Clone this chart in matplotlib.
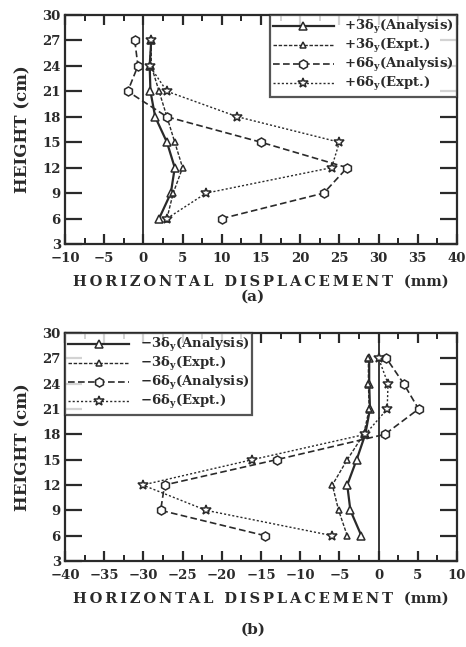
import matplotlib
matplotlib.use("Agg")
import matplotlib.pyplot as plt
from matplotlib.ticker import MultipleLocator

# heights of the measuring points (cm)
heights = [6, 9, 12, 15, 18, 21, 24, 27]

# (a) positive loading
pos3_ana = [2.0, 3.5, 4.0, 3.0, 1.5, 0.9, 0.8, 1.0]
pos3_exp = [3.0, 3.8, 5.0, 4.0, 3.0, 2.0, 1.0, 1.0]
pos6_ana = [10.0, 23.0, 26.0, 15.0, 3.0, -2.0, -0.7, -1.1]
pos6_exp = [3.0, 8.0, 24.0, 25.0, 12.0, 3.0, 0.8, 1.0]

# (b) negative loading
neg3_ana = [-2.2, -3.6, -4.0, -2.8, -1.7, -1.1, -1.2, -1.2]
neg3_exp = [-4.0, -5.1, -5.9, -4.0, -1.9, -1.2, -1.3, -1.3]
neg6_ana = [-14.5, -27.8, -27.3, -13.0, 0.8, 5.1, 3.2, 1.0]
neg6_exp = [-5.9, -22.0, -30.1, -16.1, -1.7, 1.1, 1.2, 0.0]

labels_a = ["+3δ$_\\mathrm{y}$(Analysis)", "+3δ$_\\mathrm{y}$(Expt.)",
            "+6δ$_\\mathrm{y}$(Analysis)", "+6δ$_\\mathrm{y}$(Expt.)"]
labels_b = ["\u22123δ$_\\mathrm{y}$(Analysis)", "\u22123δ$_\\mathrm{y}$(Expt.)",
            "\u22126δ$_\\mathrm{y}$(Analysis)", "\u22126δ$_\\mathrm{y}$(Expt.)"]

x_title = "\u2009".join("HORIZONTAL") + "\u2009\u2009 " + \
          "\u2009".join("DISPLACEMENT") + "\u2009\u2009 (mm)"

plt.rcParams['font.family'] = ['DejaVu Serif']
plt.rcParams['font.weight'] = 'bold'
plt.rcParams['axes.labelweight'] = 'bold'
plt.rcParams['mathtext.fontset'] = 'custom'
plt.rcParams['mathtext.rm'] = 'DejaVu Serif:bold'
plt.rcParams['mathtext.it'] = 'DejaVu Serif:bold'

ink = '#2a2a2a'


def draw_panel(ax, series, labels, xlim, legend_loc, caption, caption_y):
    styles = [
        dict(ls='-', lw=1.6, marker='^', ms=5.5),
        dict(ls=(0, (2.5, 1.2)), lw=1.0, marker='^', ms=4.5),
        dict(ls=(0, (4, 2)), lw=1.2, marker='h', ms=6.5),
        dict(ls=(0, (1.5, 1.5)), lw=1.0, marker='*', ms=7),
    ]
    for xs, lab, st in zip(series, labels, styles):
        ax.plot(xs, heights, color=ink, mfc='white', mec=ink, mew=1.1,
                label=lab, **st)
    ax.axvline(0, color=ink, lw=1.3, zorder=1)

    ax.set_xlim(*xlim)
    ax.set_ylim(3, 30)
    ax.xaxis.set_major_locator(MultipleLocator(5))
    ax.xaxis.set_minor_locator(MultipleLocator(2.5))
    ax.yaxis.set_major_locator(MultipleLocator(3))
    ax.tick_params(axis='x', which='major', direction='in', length=7, width=1.6,
                   top=True, labelsize=9.5, colors=ink, pad=6)
    ax.tick_params(axis='x', which='minor', direction='in', length=4, width=1.2,
                   top=True)
    ax.tick_params(axis='y', which='major', direction='in', length=12, width=1.6,
                   right=True, labelsize=9.5, colors=ink, pad=3)
    for sp in ax.spines.values():
        sp.set_linewidth(1.6)
        sp.set_color(ink)

    ax.set_xlabel(x_title, fontsize=10.5, color=ink, labelpad=7)
    ax.set_ylabel('HEIGHT (cm)', fontsize=12, color=ink, labelpad=8)

    leg = ax.legend(loc=legend_loc, fontsize=9.5, frameon=True, fancybox=False,
                    borderaxespad=0, handlelength=4.6, handletextpad=0.8,
                    borderpad=0.25, labelspacing=0.08)
    leg.get_frame().set_edgecolor(ink)
    leg.get_frame().set_linewidth(1.6)
    for t in leg.get_texts():
        t.set_color(ink)

    ax.text(0.48, caption_y, caption, transform=ax.transAxes, ha='center',
            va='center', fontsize=11, color=ink)


fig = plt.figure(figsize=(4.66, 6.47), dpi=100)
ax1 = fig.add_axes([65 / 466, 1 - 244 / 647, 392 / 466, 229 / 647])
ax2 = fig.add_axes([65 / 466, 1 - 561 / 647, 392 / 466, 228 / 647])

draw_panel(ax1, [pos3_ana, pos3_exp, pos6_ana, pos6_exp], labels_a,
           (-10, 40), 'upper right', '(a)', -0.23)
draw_panel(ax2, [neg3_ana, neg3_exp, neg6_ana, neg6_exp], labels_b,
           (-40, 10), 'upper left', '(b)', -0.3)

fig.savefig('out.png', dpi=100)
